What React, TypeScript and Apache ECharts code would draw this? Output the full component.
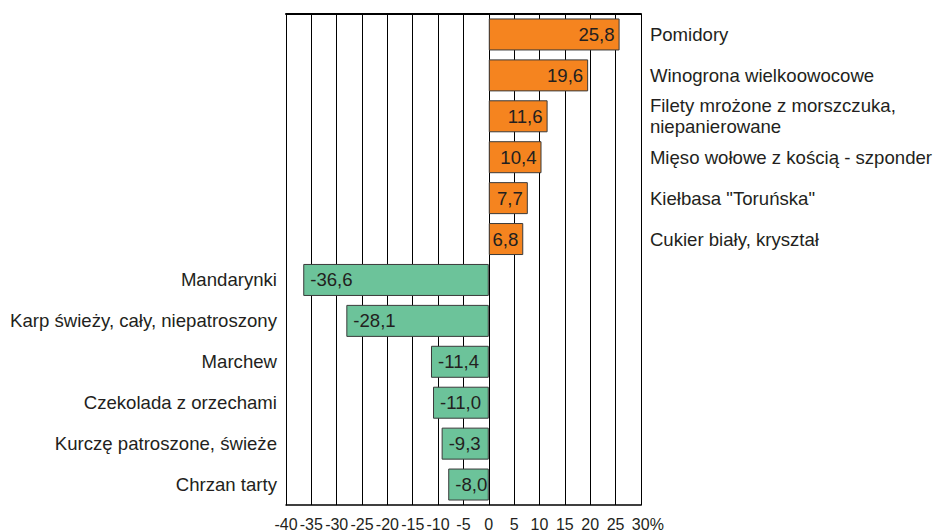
import React, { useEffect, useRef } from "react";
import * as echarts from "echarts";

const categories = [
  "Pomidory",
  "Winogrona wielkoowocowe",
  "Filety mrożone z morszczuka,\nniepanierowane",
  "Mięso wołowe z kością - szponder",
  "Kiełbasa \"Toruńska\"",
  "Cukier biały, kryształ",
  "Mandarynki",
  "Karp świeży, cały, niepatroszony",
  "Marchew",
  "Czekolada z orzechami",
  "Kurczę patroszone, świeże",
  "Chrzan tarty",
];
const values = [25.8, 19.6, 11.6, 10.4, 7.7, 6.8, -36.6, -28.1, -11.4, -11.0, -9.3, -8.0];
const xTickLabels = ["-40", "-35", "-30", "-25", "-20", "-15", "-10", "-5", "0", "5", "10", "15", "20", "25", "30%"];

const POS_COLOR = "#F5841F";
const NEG_COLOR = "#6CC39A";
const FONT = "'Liberation Sans', Arial, sans-serif";
const TEXT = "#231F20";

export default function App() {
  const ref = useRef<HTMLDivElement>(null);
  useEffect(() => {
    if (!ref.current) return;
    const chart = echarts.init(ref.current, undefined, { renderer: "svg" });
    const fmt = (v: number) => v.toFixed(1).replace(".", ",");
    chart.setOption({
      animation: false,
      backgroundColor: "#fff",
      grid: { left: 286, right: 294, top: 14, bottom: 24, containLabel: false },
      xAxis: [
        {
          type: "value",
          min: -40,
          max: 30,
          interval: 5,
          position: "bottom",
          axisLine: { show: true, onZero: false, lineStyle: { color: "#000", width: 1.5 } },
          axisTick: { show: false },
          splitLine: { show: true, lineStyle: { color: "#000", width: 1 } },
          axisLabel: {
            color: TEXT,
            fontFamily: FONT,
            fontSize: 16,
            margin: 11,
            formatter: (v: number) => {
              const i = Math.round((v + 40) / 5);
              const s = xTickLabels[i] ?? "";
              return s.endsWith("%") ? `{pct|${s}}` : s;
            },
            rich: {
              pct: {
                color: TEXT,
                fontFamily: FONT,
                fontSize: 16,
                padding: [0, 0, 0, 14],
              },
            },
          },
        },
        {
          type: "value",
          min: -40,
          max: 30,
          interval: 5,
          position: "top",
          axisLine: { show: true, onZero: false, lineStyle: { color: "#000", width: 2 } },
          axisTick: { show: false },
          axisLabel: { show: false },
          splitLine: { show: false },
        },
      ],
      yAxis: [
        {
          type: "category",
          data: categories,
          inverse: true,
          position: "left",
          axisLine: { show: true, onZero: false, lineStyle: { color: "#000", width: 1 } },
          axisTick: { show: false },
          axisLabel: {
            color: TEXT,
            fontFamily: FONT,
            fontSize: 18.6,
            margin: 9,
            formatter: (v: string, i: number) => (values[i] < 0 ? v : ""),
          },
        },
        {
          type: "category",
          data: categories,
          inverse: true,
          position: "right",
          axisLine: { show: true, onZero: false, lineStyle: { color: "#000", width: 1 } },
          axisTick: { show: false },
          axisLabel: {
            color: TEXT,
            fontFamily: FONT,
            fontSize: 18.6,
            margin: 9,
            lineHeight: 21,
            formatter: (v: string, i: number) => (values[i] >= 0 ? v : ""),
          },
        },
      ],
      series: [
        {
          type: "bar",
          xAxisIndex: 0,
          yAxisIndex: 0,
          barWidth: 32,
          data: values.map((v) => ({
            value: v,
            itemStyle: { color: v >= 0 ? POS_COLOR : NEG_COLOR, borderColor: "#3a3a3a", borderWidth: 1 },
            label: { position: v >= 0 ? "insideRight" : "insideLeft", distance: v >= 0 ? 5 : 7 },
          })),
          label: {
            show: true,
            color: TEXT,
            fontFamily: FONT,
            fontSize: 18.6,
            formatter: (p: any) => fmt(p.value),
          },
        },
      ],
    });
    return () => chart.dispose();
  }, []);
  return <div ref={ref} style={{ position: "fixed", left: 0, top: 0, width: 935, height: 532 }} />;
}
